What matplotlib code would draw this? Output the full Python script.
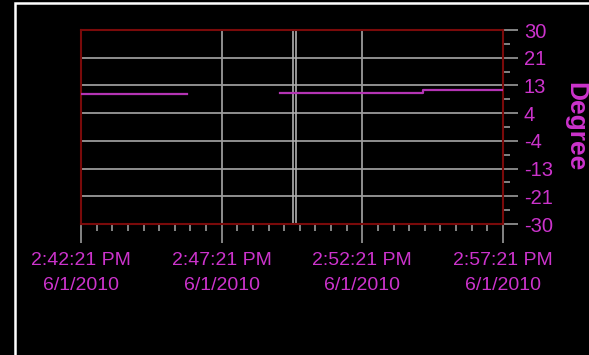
import matplotlib
matplotlib.use("Agg")
import matplotlib.pyplot as plt
import matplotlib.dates as mdates
from matplotlib.ticker import AutoMinorLocator, FixedLocator
from matplotlib.patches import Rectangle
import numpy as np
import pandas as pd

# ---- data ----
times = ["2010-06-01 14:42:21", "2010-06-01 14:44:46", "2010-06-01 14:46:07",
         "2010-06-01 14:46:08", "2010-06-01 14:49:25", "2010-06-01 14:54:30",
         "2010-06-01 14:57:21"]
degree = [10.1, 10.3, 10.3, np.nan, 10.4, 11.4, 11.4]
cursor_times = ["2010-06-01 14:49:53", "2010-06-01 14:49:59"]
x_ticks = ["2010-06-01 14:42:21", "2010-06-01 14:47:21",
           "2010-06-01 14:52:21", "2010-06-01 14:57:21"]
x_tick_labels = ["2:42:21 PM\n6/1/2010", "2:47:21 PM\n6/1/2010",
                 "2:52:21 PM\n6/1/2010", "2:57:21 PM\n6/1/2010"]
y_tick_values = list(np.linspace(-30, 30, 8))
y_tick_labels = ["-30", "-21", "-13", "-4", "4", "13", "21", "30"]
y_label = "Degree"

MAG = "#CC33CC"
LINE = "#B434B4"
GRID = "#9A9A9A"
FRAME = "#7A0A0A"
FONT = ["Liberation Sans", "DejaVu Sans"]

fig = plt.figure(figsize=(5.89, 3.55), dpi=100, facecolor="black")
# outer white border
fig.patches.append(Rectangle((14.5 / 589, -0.1), 1.2, 1 - 3.5 / 355 + 0.1,
                             transform=fig.transFigure, fill=False,
                             edgecolor="white", linewidth=1.8))

ax = fig.add_axes([81 / 589, 1 - 224 / 355, 422 / 589, 194 / 355])
ax.set_facecolor("black")

t = pd.to_datetime(times)
ax.plot(t, degree, color=LINE, linewidth=1.6, drawstyle="steps-post", zorder=3)

for ct in pd.to_datetime(cursor_times):
    ax.axvline(ct, color="#B0B0B0", linewidth=1.2, zorder=2)

xt = pd.to_datetime(x_ticks)
ax.set_xlim(xt[0], xt[-1])
ax.set_ylim(-30, 30)

ax.xaxis.set_major_locator(FixedLocator(mdates.date2num(xt)))
ax.set_xticklabels(x_tick_labels)
ax.xaxis.set_minor_locator(AutoMinorLocator(9))
ax.set_yticks(y_tick_values)
ax.set_yticklabels(y_tick_labels)
ax.yaxis.set_minor_locator(AutoMinorLocator(2))

ax.yaxis.tick_right()
ax.yaxis.set_label_position("right")

ax.grid(True, which="major", color=GRID, linewidth=1.3, zorder=1)
ax.set_axisbelow(True)

for s in ax.spines.values():
    s.set_color(FRAME)
    s.set_linewidth(1.5)

ax.tick_params(axis="x", which="major", length=14, width=1.2, color=GRID,
               pad=6, labelcolor=MAG, labelsize=14)
ax.tick_params(axis="x", which="minor", length=5, width=1.2, color=GRID)
ax.tick_params(axis="y", which="major", length=11, width=1.2, color=GRID,
               pad=4, labelcolor=MAG, labelsize=14.5)
ax.tick_params(axis="y", which="minor", length=5, width=1.2, color=GRID)
for lab in ax.get_xticklabels() + ax.get_yticklabels():
    lab.set_family(FONT)
for lab in ax.get_xticklabels():
    lab.set_linespacing(1.6)

ax.set_ylabel(y_label, rotation=-90, color=MAG, fontsize=19,
              fontweight="bold", family=FONT, labelpad=25)

fig.savefig("out.png", dpi=100, facecolor="black")
